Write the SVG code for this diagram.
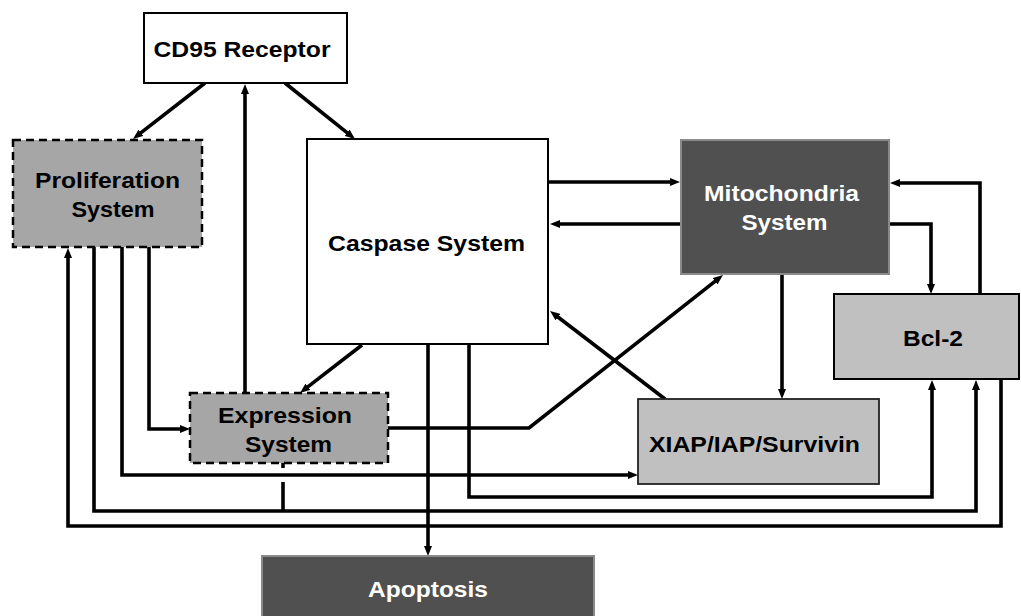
<svg xmlns="http://www.w3.org/2000/svg" width="1021" height="616" viewBox="0 0 1021 616">
  <style>
    .lbl { font-family: "Liberation Sans", Arial, sans-serif; font-weight: bold; font-size: 22px; text-anchor: middle; fill: #000; }
    .lbl-w { fill: #fff; }
    .box-white { fill: #fff; stroke: #000; stroke-width: 2; }
    .box-dash { fill: #a6a6a6; stroke: #000; stroke-width: 2.5; stroke-dasharray: 8 5; }
    .box-dark { fill: #505050; stroke: #8a8a8a; stroke-width: 2; }
    .box-light { fill: #c0c0c0; stroke: #222; stroke-width: 1.8; }
    .conn { fill: none; stroke: #000; stroke-width: 3.6; stroke-linejoin: miter; }
  </style>
  <defs>
    <marker id="arrow" viewBox="0 0 10 8" refX="3" refY="4" markerWidth="10" markerHeight="8" markerUnits="userSpaceOnUse" orient="auto">
      <path d="M0,0 L10,4 L0,8 Z" fill="#000"/>
    </marker>
  </defs>

  <rect width="1021" height="616" fill="#fff"/>

  <!-- connectors -->
  <g id="connectors" class="conn">
    <path d="M205,83 L138.5,134.7" marker-end="url(#arrow)"/>
    <path d="M285,83 L349.5,134.6" marker-end="url(#arrow)"/>
    <path d="M245,393 V91" marker-end="url(#arrow)"/>
    <path d="M549,182 H673" marker-end="url(#arrow)"/>
    <path d="M681,224 H557" marker-end="url(#arrow)"/>
    <path d="M362,345 L305.5,388.7" marker-end="url(#arrow)"/>
    <path d="M980,294 V183 H897" marker-end="url(#arrow)"/>
    <path d="M889,224 H931 V287" marker-end="url(#arrow)"/>
    <path d="M782,274 V392" marker-end="url(#arrow)"/>
    <path d="M665,399 L555.6,315.3" marker-end="url(#arrow)"/>
    <path d="M388,428 H529 L717.5,279.3" marker-end="url(#arrow)"/>
    <path d="M428,345 V549" marker-end="url(#arrow)"/>
    <path d="M469,345 V497 H932 V387" marker-end="url(#arrow)"/>
    <path d="M149,247 V429 H183" marker-end="url(#arrow)"/>
    <path d="M122,247 V475 H631" marker-end="url(#arrow)"/>
    <path d="M94,247 V511 H976 V387" marker-end="url(#arrow)"/>
    <path d="M1001,379 V526 H68 V255" marker-end="url(#arrow)"/>
    <path d="M283,463 V468"/>
    <path d="M283,482 V511"/>
  </g>

  <g id="cd95">
    <rect class="box-white" x="144" y="13" width="203" height="70"/>
    <text class="lbl" x="242" y="57" textLength="177" lengthAdjust="spacingAndGlyphs">CD95 Receptor</text>
  </g>

  <g id="proliferation">
    <rect class="box-dash" x="13" y="140" width="189" height="107"/>
    <text class="lbl" x="107.5" y="188" textLength="145" lengthAdjust="spacingAndGlyphs">Proliferation</text>
    <text class="lbl" x="113" y="217" textLength="83" lengthAdjust="spacingAndGlyphs">System</text>
  </g>

  <g id="caspase">
    <rect class="box-white" x="307" y="139" width="241" height="205"/>
    <text class="lbl" x="426.5" y="251" textLength="197" lengthAdjust="spacingAndGlyphs">Caspase System</text>
  </g>

  <g id="mitochondria">
    <rect class="box-dark" x="681" y="140" width="208" height="134"/>
    <text class="lbl lbl-w" x="781.5" y="201" textLength="155" lengthAdjust="spacingAndGlyphs">Mitochondria</text>
    <text class="lbl lbl-w" x="784.5" y="230" textLength="86" lengthAdjust="spacingAndGlyphs">System</text>
  </g>

  <g id="bcl2">
    <rect class="box-light" x="834" y="294" width="185" height="85" style="stroke:#000;stroke-width:2"/>
    <text class="lbl" x="933" y="346" textLength="60" lengthAdjust="spacingAndGlyphs">Bcl-2</text>
  </g>

  <g id="xiap">
    <rect class="box-light" x="638" y="399" width="241" height="85"/>
    <text class="lbl" x="754.5" y="452" textLength="211" lengthAdjust="spacingAndGlyphs">XIAP/IAP/Survivin</text>
  </g>

  <g id="expression">
    <rect class="box-dash" x="190" y="393" width="198" height="70"/>
    <text class="lbl" x="285" y="423" textLength="134" lengthAdjust="spacingAndGlyphs">Expression</text>
    <text class="lbl" x="288.5" y="452" textLength="87" lengthAdjust="spacingAndGlyphs">System</text>
  </g>

  <g id="apoptosis">
    <rect class="box-dark" x="262" y="556" width="332" height="70"/>
    <text class="lbl lbl-w" x="428" y="597" textLength="120" lengthAdjust="spacingAndGlyphs">Apoptosis</text>
  </g>
</svg>
